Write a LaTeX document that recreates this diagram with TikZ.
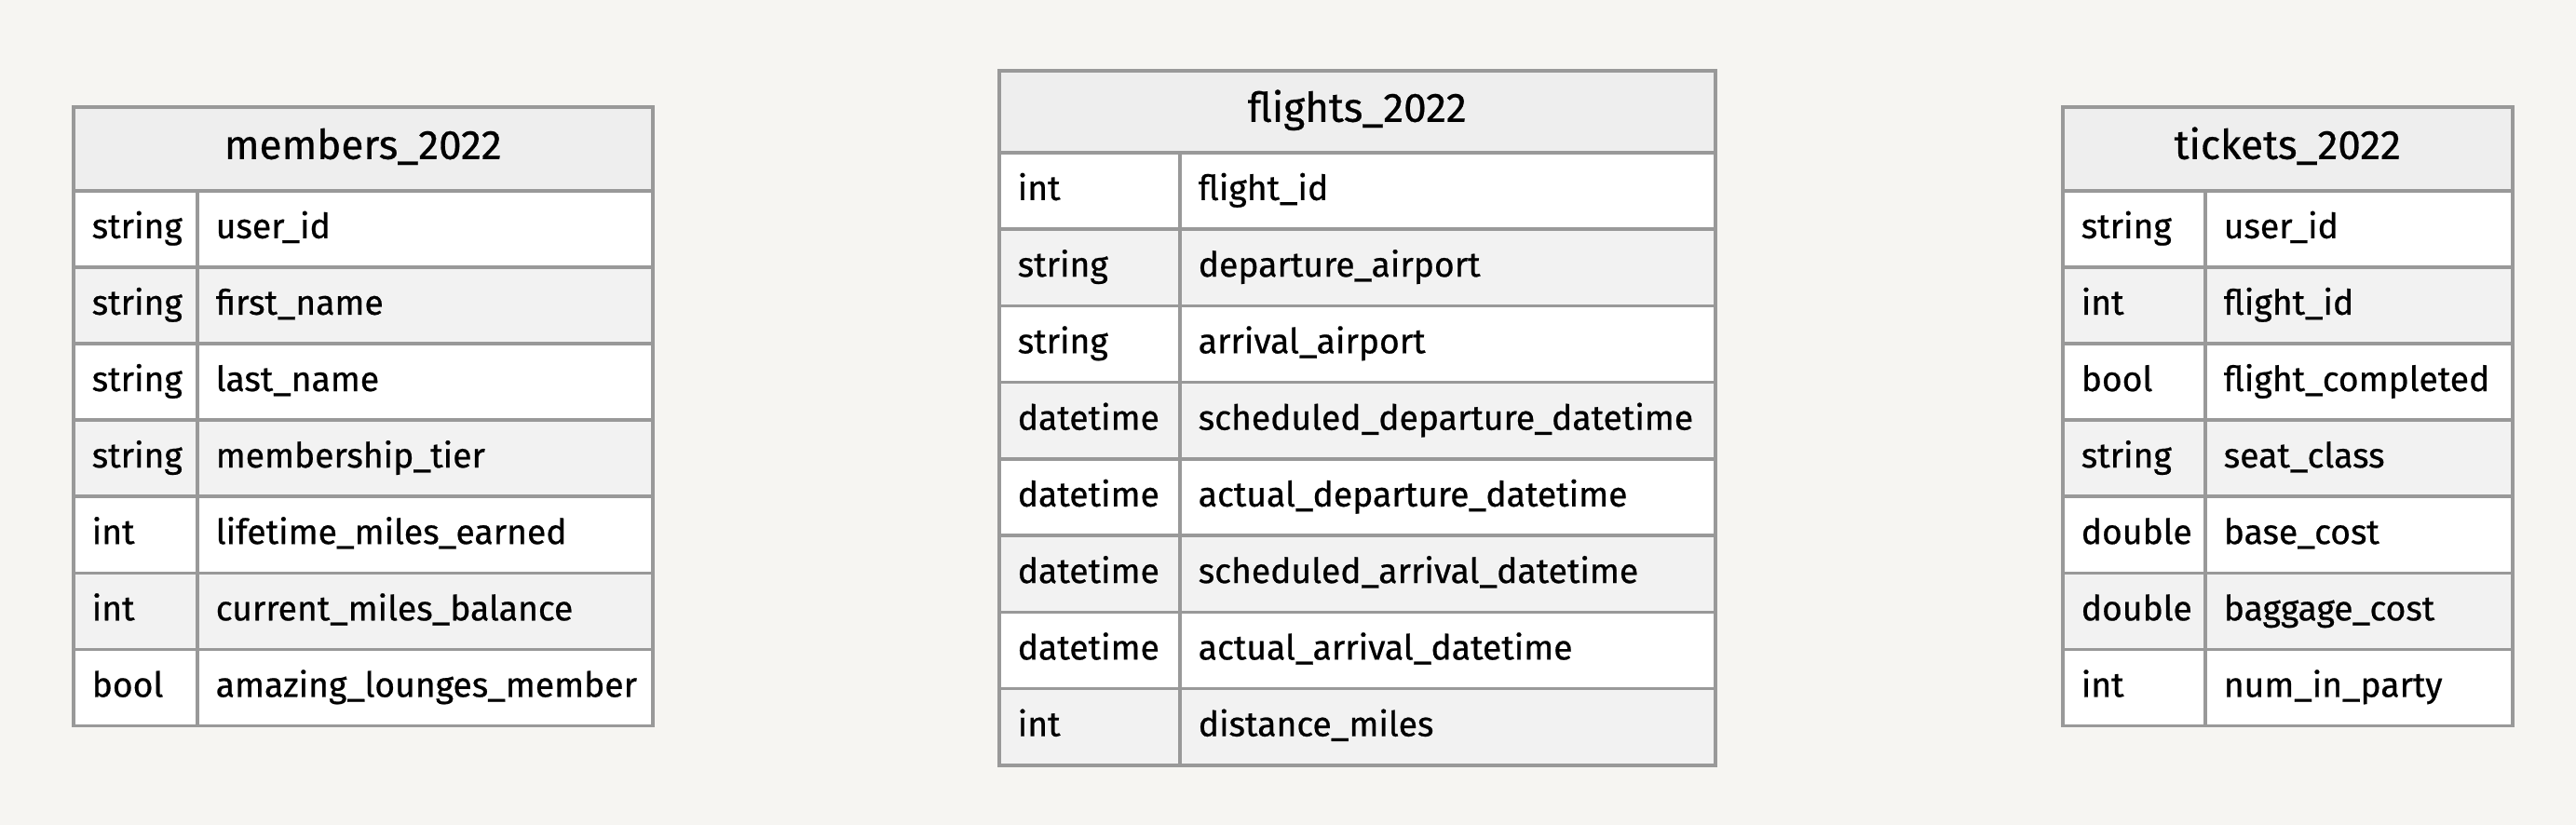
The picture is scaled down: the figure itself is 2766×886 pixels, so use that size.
\documentclass[tikz,border=0pt]{standalone}
\usepackage{fontspec}
\setmainfont{Fira Sans}[FakeBold=0.6]
\definecolor{bgc}{HTML}{F6F5F2}
\definecolor{hdrfill}{HTML}{EEEEEE}
\definecolor{rowgray}{HTML}{F2F2F2}
\definecolor{bordergray}{HTML}{999999}
\tikzset{
  hdr/.style={fill=hdrfill, draw=bordergray, line width=3.5pt, anchor=north west,
    inner sep=0pt, text height=32pt, text depth=10pt, font=\fontsize{44}{50}\selectfont},
  cell/.style={draw=bordergray, line width=3.5pt, anchor=north west, inner xsep=20pt,
    inner ysep=0pt, text height=30pt, text depth=10pt, align=left,
    font=\fontsize{37.3}{44}\selectfont}
}
% #1 prefix, #2 x0, #3 divider, #4 x1, #5 top, #6 header bottom, #7 row height, #8 title, #9 rows
\newcommand{\ertable}[9]{%
  \pgfmathsetmacro\tw{#4-#2}%
  \pgfmathsetmacro\hh{#6-#5}%
  \pgfmathsetmacro\wa{#3-#2}%
  \pgfmathsetmacro\wb{#4-#3}%
  \pgfmathsetmacro\ta{#3-#2-40}%
  \pgfmathsetmacro\tb{#4-#3-40}%
  \node[hdr, minimum width=\tw pt, minimum height=\hh pt] (#1h) at (#2,#5) {#8};
  \foreach \t/\n [count=\i] in {#9} {
    \pgfmathsetmacro\yy{#6+(\i-1)*#7}
    \ifodd\i \def\rf{white}\else\def\rf{rowgray}\fi
    \node[cell, fill=\rf, minimum width=\wa pt, minimum height=#7pt, text width=\ta pt] (#1t\i) at (#2,\yy) {\t};
    \node[cell, fill=\rf, minimum width=\wb pt, minimum height=#7pt, text width=\tb pt] (#1n\i) at (#3,\yy) {\n};
  }
}
\begin{document}
\begin{tikzpicture}[x=1pt,y=-1pt]
\fill[bgc] (0,0) rectangle (2766,886);
\useasboundingbox (0,0) rectangle (2766,886);
\ertable{m}{77}{210}{699}{113}{203}{82.1}{members\_2022}{
  string/user\_id, string/first\_name, string/last\_name, string/membership\_tier,
  int/lifetime\_miles\_earned, int/current\_miles\_balance, bool/amazing\_lounges\_member}
\ertable{f}{1071}{1265}{1840}{74}{162}{82.25}{flights\_2022}{
  int/flight\_id, string/departure\_airport, string/arrival\_airport,
  datetime/scheduled\_departure\_datetime, datetime/actual\_departure\_datetime,
  datetime/scheduled\_arrival\_datetime, datetime/actual\_arrival\_datetime, int/distance\_miles}
\ertable{t}{2213}{2366}{2696}{113}{203}{82.1}{tickets\_2022}{
  string/user\_id, int/flight\_id, bool/flight\_completed, string/seat\_class,
  double/base\_cost, double/baggage\_cost, int/num\_in\_party}
\end{tikzpicture}
\end{document}
